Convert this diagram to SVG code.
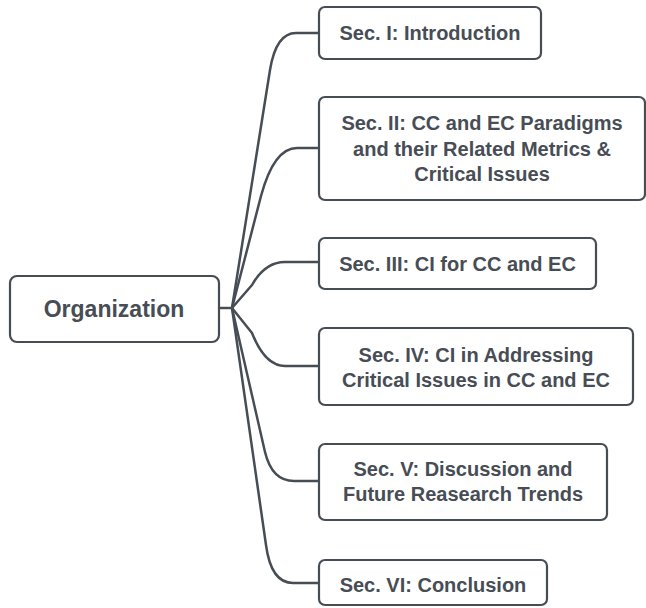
<svg xmlns="http://www.w3.org/2000/svg" width="646" height="608" viewBox="0 0 646 608">
<style>
.box{fill:#ffffff;stroke:#474d55;stroke-width:2.2}
.t{font-family:"Liberation Sans",Arial,sans-serif;font-weight:bold;font-size:20px;fill:#474d55;text-anchor:middle}
.c{fill:none;stroke:#474d55;stroke-width:2.5;stroke-linejoin:round}
</style>
<rect width="646" height="608" fill="#ffffff"/>
<g id="connectors">
<path class="c" d="M219,308 L232,308"/>
<path class="c" d="M232,308 L270,70 Q276,33 296,33 L319,33"/>
<path class="c" d="M232,308 L261,196 Q274,148 297,148 L319,148"/>
<path class="c" d="M232,308 L252,285 Q265,262 285,262 L319,262"/>
<path class="c" d="M232,308 L252,333 Q265,366 285,366 L319,366"/>
<path class="c" d="M232,308 L265,452 Q272,481 294,481 L319,481"/>
<path class="c" d="M232,308 L266,545 Q271,583 293,583 L319,583"/>
</g>
<g id="organization">
<rect class="box" x="10" y="276" width="209" height="66" rx="7"/>
<text class="t" x="114" y="317" style="font-size:23px">Organization</text>
</g>
<g id="sec1">
<rect class="box" x="319" y="7" width="222" height="52" rx="6"/>
<text class="t" x="430" y="40">Sec. I: Introduction</text>
</g>
<g id="sec2">
<rect class="box" x="319" y="97" width="326" height="103" rx="6"/>
<text class="t" x="482" y="130">Sec. II: CC and EC Paradigms</text>
<text class="t" x="482" y="155.5">and their Related Metrics &amp;</text>
<text class="t" x="482" y="181">Critical Issues</text>
</g>
<g id="sec3">
<rect class="box" x="319" y="238" width="277" height="51" rx="6"/>
<text class="t" x="457.5" y="271">Sec. III: CI for CC and EC</text>
</g>
<g id="sec4">
<rect class="box" x="319" y="328" width="314" height="77" rx="6"/>
<text class="t" x="476" y="361.5">Sec. IV: CI in Addressing</text>
<text class="t" x="476" y="387">Critical Issues in CC and EC</text>
</g>
<g id="sec5">
<rect class="box" x="319" y="444" width="288" height="76" rx="6"/>
<text class="t" x="463" y="475.5">Sec. V: Discussion and</text>
<text class="t" x="463" y="501">Future Reasearch Trends</text>
</g>
<g id="sec6">
<rect class="box" x="319" y="560" width="228" height="45" rx="6"/>
<text class="t" x="433" y="591.5">Sec. VI: Conclusion</text>
</g>
</svg>
